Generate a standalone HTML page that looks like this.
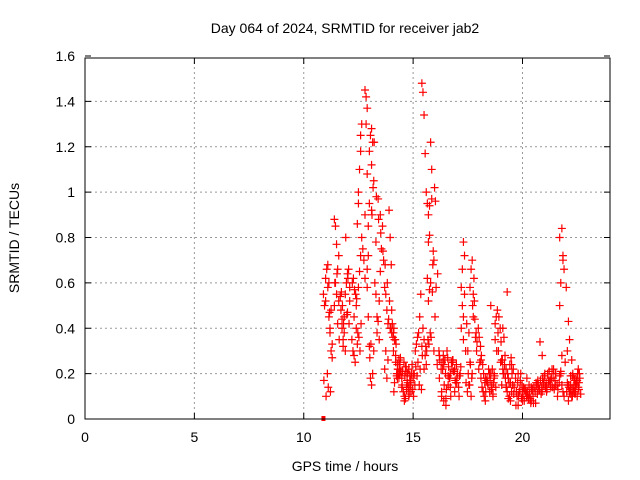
<!DOCTYPE html>
<html><head><meta charset="utf-8"><style>
body{margin:0;background:#fff}
svg{display:block;font-family:"Liberation Sans",sans-serif}
</style></head><body>
<svg id="chart" width="640" height="480">
<text x="345" y="33" font-size="14" text-anchor="middle">Day 064 of 2024, SRMTID for receiver jab2</text>
<text x="345" y="471" font-size="14" text-anchor="middle">GPS time / hours</text>
<text transform="translate(19,238) rotate(-90)" font-size="14" text-anchor="middle">SRMTID / TECUs</text>
<g id="grid"></g><g id="ticks"></g><g id="marks"></g>
<rect x="85" y="58" width="525" height="361" fill="none" stroke="#000" stroke-width="1"/>
</svg>
<script>
const xTicks=[0,5,10,15,20];
const yTicks=[0,0.2,0.4,0.6,0.8,1,1.2,1.4,1.6];
const yTickLabels=["0","0.2","0.4","0.6","0.8","1","1.2","1.4","1.6"];
const times=[10.9,10.95,11.0,11.05,11.1,11.15,11.2,11.25,11.3,11.0,11.1,11.2,11.3,11.15,11.25,
11.4,11.45,11.5,11.55,11.45,11.5,11.6,11.4,11.55,11.6,11.7,11.75,11.8,11.85,11.9,11.95,12.0,12.05,12.1,11.8,11.9,12.0,12.1,11.75,11.85,
12.2,12.25,12.3,12.35,12.4,12.45,12.3,12.4,12.5,12.55,12.6,12.5,12.55,12.6,12.65,12.5,12.6,12.45,12.65,12.7,
12.8,12.85,12.9,12.85,12.9,12.8,12.95,12.75,12.8,12.9,12.95,13.0,13.05,13.1,13.15,13.2,13.1,13.05,13.15,13.0,13.1,13.2,13.0,13.1,12.9,12.95,
13.25,13.3,13.35,13.4,13.45,13.5,13.3,13.4,13.5,13.55,13.35,13.45,13.6,13.65,13.7,13.75,13.8,13.85,13.7,13.8,13.9,13.95,14.0,13.75,13.85,13.95,
14.05,14.1,14.15,14.2,14.25,14.3,14.35,14.4,14.1,14.2,14.3,14.4,14.15,14.25,14.35,14.45,14.5,14.55,14.6,14.65,14.7,14.75,14.8,14.85,14.9,14.95,15.0,14.6,14.7,14.8,14.9,15.0,14.65,14.75,14.85,
15.1,15.15,15.2,15.25,15.3,15.35,15.4,15.45,15.5,15.55,15.6,15.65,15.7,15.75,15.4,15.45,15.5,15.55,15.6,15.5,15.65,15.7,15.75,15.8,15.7,15.75,15.8,15.85,15.9,15.95,16.0,15.85,15.95,
16.1,16.2,16.3,16.4,16.5,16.6,16.7,16.8,16.9,17.0,16.2,16.35,16.45,16.55,16.65,16.75,16.85,16.95,16.3,16.5,16.7,16.9,16.4,16.6,16.8,17.0,17.1,17.15,
17.2,17.25,17.3,17.35,17.25,17.3,17.2,17.3,17.4,17.35,17.45,17.5,17.55,17.6,17.65,17.7,17.75,17.8,17.6,17.7,17.75,17.85,17.9,17.55,17.65,
18.0,18.1,18.2,18.3,18.4,18.5,18.05,18.15,18.25,18.35,18.45,18.1,18.3,18.5,18.55,18.6,18.65,18.7,18.6,18.65,18.7,18.75,18.8,18.55,18.75,18.85,18.9,
19.0,19.05,19.1,19.15,19.2,19.25,19.3,19.35,19.4,19.45,19.5,19.05,19.15,19.25,19.35,19.45,19.55,19.1,19.3,19.5,19.6,19.7,19.8,19.9,20.0,20.1,20.2,20.3,20.4,20.5,19.75,19.85,19.95,20.05,20.15,20.25,20.35,20.45,19.8,20.0,20.2,20.4,20.0,
20.6,20.7,20.8,20.9,21.0,21.1,21.2,21.3,21.4,21.5,20.65,20.75,20.85,20.95,21.05,21.15,21.25,21.35,21.45,20.7,20.9,21.1,21.3,21.5,21.6,
21.7,21.75,21.8,21.85,21.9,21.75,21.8,21.85,21.7,21.8,21.9,21.75,21.85,21.95,21.7,
22.0,22.05,22.1,22.15,22.2,22.25,22.3,22.35,22.4,22.45,22.5,22.55,22.6,22.05,22.15,22.25,22.35,22.45,22.55,22.1,22.3,22.5,22.2,22.4,
10.92,11.02,11.12,11.22,11.08,11.18,11.42,11.52,11.62,11.72,11.82,11.92,12.02,11.67,11.77,11.97,12.07,12.22,12.32,12.42,12.27,12.37,12.47,
12.52,12.57,12.62,13.02,13.07,13.12,13.17,13.22,13.32,13.42,13.52,13.62,13.72,13.82,13.92,14.02,13.88,13.98,
14.02,14.08,14.12,14.18,14.22,14.28,14.32,14.38,14.42,14.48,14.52,14.58,14.62,14.68,14.72,14.78,14.82,14.88,14.92,14.98,15.02,15.08,14.12,14.28,14.48,14.68,14.88,15.05,
15.12,15.18,15.22,15.28,15.32,15.38,15.42,15.58,15.62,15.68,15.72,15.78,15.82,15.88,15.92,15.98,16.02,16.05,16.12,16.18,16.22,16.28,16.32,16.38,16.42,16.48,16.52,16.58,16.62,16.68,16.72,16.78,16.82,16.88,16.92,16.98,
17.02,17.08,17.12,17.18,17.42,17.48,17.52,17.58,17.62,17.68,17.72,17.78,17.82,17.88,17.92,17.98,18.02,18.08,18.12,18.18,18.22,18.28,18.32,18.38,18.42,18.48,18.52,18.58,18.62,18.68,18.72,18.78,18.82,18.88,18.92,18.98,
19.02,19.08,19.12,19.18,19.22,19.28,19.32,19.38,19.42,19.48,19.52,19.58,19.62,19.68,19.72,19.78,19.82,19.88,19.92,19.98,20.02,20.08,20.12,20.18,20.22,20.28,20.32,20.38,20.42,20.48,20.52,20.58,20.62,20.68,20.72,20.78,20.82,20.88,20.92,20.98,
21.02,21.08,21.12,21.18,21.22,21.28,21.32,21.38,21.42,21.48,21.52,21.58,21.62,21.68,22.02,22.08,22.12,22.18,22.22,22.28,22.32,22.38,22.42,22.48,22.52,22.58,22.62,22.66,22.12,22.28,22.42,22.58];
const values=[0.55,0.5,0.62,0.66,0.58,0.45,0.38,0.3,0.27,0.52,0.68,0.4,0.33,0.6,0.48,
0.88,0.85,0.77,0.66,0.6,0.55,0.72,0.5,0.42,0.52,0.48,0.4,0.35,0.45,0.55,0.6,0.64,0.66,0.58,0.32,0.3,0.47,0.52,0.44,0.38,
0.35,0.3,0.28,0.25,0.4,0.33,0.45,0.5,0.58,0.65,0.72,1.0,1.1,1.25,1.3,0.95,1.18,0.86,0.8,0.75,
1.45,1.42,1.37,1.3,1.08,0.9,0.85,0.7,0.62,0.58,0.45,0.32,0.18,0.15,0.2,0.3,1.28,1.25,1.22,1.18,1.12,1.05,0.95,0.92,0.66,0.72,
0.6,0.55,0.45,0.43,0.52,0.65,0.78,0.97,0.9,0.75,0.38,0.35,0.85,0.7,0.58,0.55,0.48,0.42,0.22,0.18,0.92,0.8,0.68,0.3,0.26,0.4,
0.42,0.38,0.35,0.25,0.2,0.22,0.18,0.24,0.3,0.28,0.22,0.2,0.16,0.19,0.26,0.21,0.15,0.12,0.1,0.09,0.13,0.16,0.22,0.19,0.17,0.24,0.2,0.08,0.14,0.1,0.12,0.18,0.23,0.2,0.15,
0.3,0.33,0.36,0.38,0.45,0.55,1.48,1.44,1.34,1.17,1.0,0.95,0.9,0.94,0.32,0.4,0.35,0.28,0.24,0.22,0.62,0.52,0.57,0.6,0.78,0.81,1.22,1.1,0.68,0.7,0.45,0.97,0.3,
0.24,0.18,0.12,0.08,0.06,0.15,0.2,0.26,0.22,0.18,0.28,0.22,0.26,0.3,0.18,0.25,0.21,0.16,0.1,0.09,0.14,0.12,0.24,0.19,0.25,0.16,0.1,0.2,
0.58,0.66,0.78,0.72,0.5,0.45,0.4,0.35,0.3,0.55,0.42,0.3,0.38,0.58,0.66,0.7,0.55,0.52,0.25,0.2,0.45,0.36,0.3,0.15,0.1,
0.22,0.18,0.12,0.08,0.16,0.2,0.25,0.14,0.1,0.17,0.22,0.26,0.18,0.12,0.2,0.15,0.1,0.2,0.14,0.11,0.18,0.35,0.45,0.5,0.42,0.48,0.3,0.25,0.15,0.4,0.36,0.28,
0.22,0.56,0.18,0.1,0.08,0.12,0.26,0.2,0.14,0.09,0.16,0.15,0.22,0.12,0.24,0.11,0.06,0.2,0.17,0.1,0.13,0.18,0.15,0.08,0.07,0.1,0.12,0.09,0.14,0.12,0.1,0.09,0.13,0.06,0.08,0.11,0.14,0.12,0.07,0.16,0.34,0.28,0.19,
0.12,0.16,0.14,0.18,0.2,0.15,0.13,0.11,0.16,0.14,0.2,0.17,0.22,0.13,0.17,0.12,0.14,0.18,0.15,0.1,0.19,0.21,0.15,0.12,0.1,
0.2,0.28,0.72,0.8,0.84,0.66,0.6,0.7,0.25,0.5,0.58,0.3,0.43,0.35,0.15,
0.26,0.2,0.12,0.15,0.18,0.1,0.14,0.2,0.16,0.12,0.1,0.18,0.15,0.22,0.08,0.13,0.17,0.19,0.11,0.17,0.1,0.14,0.12,0.2,
0.47,0.6,0.64,0.35,0.56,0.42,0.8,0.62,0.54,0.5,0.46,0.42,0.6,0.57,0.53,0.62,0.55,0.38,0.36,0.3,0.42,0.27,0.33,
0.9,1.02,1.22,0.98,0.88,0.82,0.74,0.68,0.6,0.52,0.48,0.44,0.4,0.38,0.36,0.4,0.35,0.33,
0.24,0.2,0.22,0.27,0.18,0.21,0.25,0.19,0.23,0.17,0.14,0.11,0.16,0.2,0.13,0.1,0.15,0.12,0.18,0.14,0.21,0.17,0.2,0.23,0.19,0.25,0.15,0.22,0.13,
0.28,0.32,0.3,0.35,0.33,0.38,0.36,0.56,0.74,1.02,0.96,0.58,0.64,0.3,0.26,0.22,0.25,0.28,0.15,0.2,0.13,0.27,0.23,0.18,0.1,0.22,0.26,0.21,0.17,0.24,0.2,0.14,0.19,0.23,0.16,0.12,
0.2,0.15,0.24,0.18,0.5,0.62,0.44,0.38,0.34,0.4,0.36,0.32,0.28,0.24,0.2,0.16,0.12,0.18,0.15,0.2,0.17,0.13,0.22,0.16,0.19,0.14,0.3,0.38,0.45,0.4,0.34,0.26,0.2,0.24,0.18,0.14,
0.2,0.16,0.24,0.27,0.2,0.22,0.14,0.18,0.12,0.16,0.1,0.13,0.2,0.15,0.11,0.08,0.13,0.1,0.12,0.09,0.11,0.07,0.13,0.1,0.14,0.12,0.16,0.11,0.15,0.13,0.17,0.14,0.18,0.15,0.2,0.16,0.13,0.17,0.21,0.15,
0.18,0.14,0.22,0.17,0.2,0.15,0.13,0.16,0.12,0.15,0.14,0.11,0.13,0.1,0.14,0.17,0.12,0.16,0.2,0.13,0.18,0.11,0.15,0.19,0.13,0.16,0.12,0.14,0.09,0.2,0.15,0.1];
const NS='http://www.w3.org/2000/svg';
const X0=85,X1=610,Y0=419,Y1=56;
function sx(h){return X0+h*(X1-X0)/24;}
function sy(v){return Y0-v*(Y0-Y1)/1.6;}
const grid=document.getElementById('grid'),ticks=document.getElementById('ticks'),marks=document.getElementById('marks');
function mk(tag,attrs,parent){const e=document.createElementNS(NS,tag);for(const k in attrs)e.setAttribute(k,attrs[k]);parent.appendChild(e);return e;}
xTicks.forEach(t=>{
 const x=sx(t);
 if(t>0){const g=mk('line',{x1:x,x2:x,y1:Y0,y2:58,stroke:'#999','stroke-dasharray':'2,3'},grid);
 
 }
 mk('line',{x1:x,x2:x,y1:Y0,y2:Y0-6,stroke:'#000'},ticks);
 mk('line',{x1:x,x2:x,y1:58,y2:64,stroke:'#000'},ticks);
 const l=mk('text',{x:x,y:442,'font-size':14,'text-anchor':'middle'},ticks);
 l.textContent=t;
 
 
});
yTicks.forEach((t,i)=>{
 const y=sy(t);
 if(t>0&&t<1.6){const g=mk('line',{x1:X0,x2:X1,y1:y,y2:y,stroke:'#999','stroke-dasharray':'2,3'},grid);
 
 }
 mk('line',{x1:X0,x2:X0+6,y1:y,y2:y,stroke:'#000'},ticks);
 mk('line',{x1:X1,x2:X1-6,y1:y,y2:y,stroke:'#000'},ticks);
 const l=mk('text',{x:75,y:y+5,'font-size':14,'text-anchor':'end'},ticks);
 l.textContent=yTickLabels[i];
 
 
});
times.forEach((t,i)=>{
 const x=sx(t),y=sy(values[i]);
 const p=mk('path',{d:`M${x-4},${y}H${x+4}M${x},${y-4}V${y+4}`,stroke:'#f00','stroke-width':1.2,fill:'none'},marks);
 
 
});
const sq=mk('rect',{x:sx(10.9)-2,y:Y0-3,width:4,height:5,fill:'#f00'},marks);


</script>
</body></html>
